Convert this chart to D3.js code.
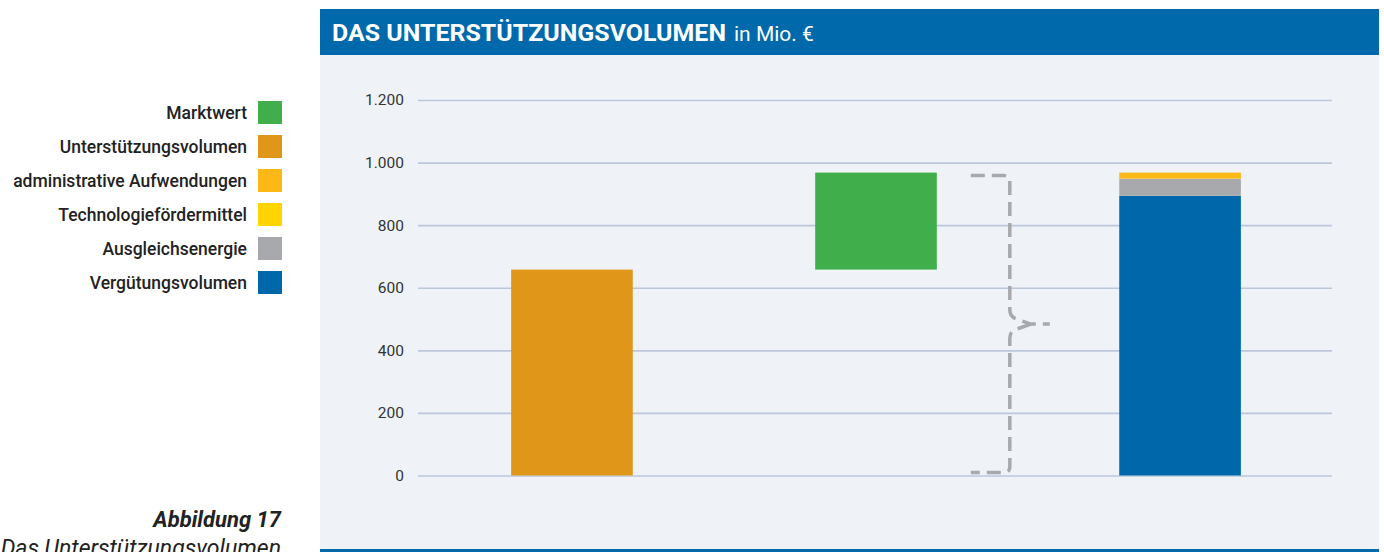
<!DOCTYPE html>
<html>
<head>
<meta charset="utf-8">
<script src="https://cdn.jsdelivr.net/npm/d3@7"></script>
<style>
  body { margin: 0; background: #fff; }
  svg { display: block; font-family: Roboto, "Liberation Sans", sans-serif; }
</style>
</head>
<body>
<svg id="chart" width="1384" height="552"></svg>
<script>
// chart data
var categories = ["Unterstützungsvolumen", "Marktwert", "Gesamt"]
var unterstuetzung = 658
var marktwert = 310
var stackKeys = ["Vergütungsvolumen", "Ausgleichsenergie", "Technologiefördermittel", "administrative Aufwendungen"]
var stackValues = [894, 54, 1, 19]
var yTicks = [0, 200, 400, 600, 800, 1000, 1200]

var legendItems = ["Marktwert", "Unterstützungsvolumen", "administrative Aufwendungen", "Technologiefördermittel", "Ausgleichsenergie", "Vergütungsvolumen"]
var colors = {
    "Marktwert": "#40ae4b",
    "Unterstützungsvolumen": "#e09618",
    "administrative Aufwendungen": "#fbb817",
    "Technologiefördermittel": "#ffd400",
    "Ausgleichsenergie": "#a7a9ac",
    "Vergütungsvolumen": "#0068aa"
}

var svg = d3.select("#chart")
var de = d3.formatLocale({ decimal: ",", thousands: ".", grouping: [3], currency: ["", " €"] })
var fmt = de.format(",")

// panel + title bar
svg.append("rect").attr("x", 320).attr("y", 54).attr("width", 1059).attr("height", 498).attr("fill", "#eff3f8")
svg.append("rect").attr("x", 320).attr("y", 9).attr("width", 1059).attr("height", 46).attr("fill", "#0069ab")
svg.append("rect").attr("x", 320).attr("y", 549).attr("width", 1059).attr("height", 3).attr("fill", "#0069ab")

svg.append("text").attr("x", 332).attr("y", 41)
    .attr("fill", "#fff").attr("font-size", 23).attr("font-weight", 700)
    .attr("textLength", 394).attr("lengthAdjust", "spacingAndGlyphs")
    .text("DAS UNTERSTÜTZUNGSVOLUMEN")
svg.append("text").attr("x", 734).attr("y", 41)
    .attr("fill", "#fff").attr("font-size", 21)
    .text("in Mio. €")

// scales
var x = d3.scaleBand().domain(categories).range([419, 1333]).paddingInner(0.6).paddingOuter(0.303)
var y = d3.scaleLinear().domain([0, 1200]).range([475.5, 100])

// grid + axis
var yAxis = d3.axisLeft(y).tickValues(yTicks).tickFormat(fmt).tickSize(-(1332 - 418)).tickPadding(14)
var ga = svg.append("g").attr("transform", "translate(418,0)").call(yAxis)
ga.select(".domain").remove()
ga.selectAll(".tick line").attr("stroke", "#bcc7dc").attr("stroke-width", 1.6)
ga.selectAll(".tick text").attr("fill", "#333").attr("font-size", 15.5).attr("font-family", "Roboto, sans-serif")

// bars
svg.append("rect")
    .attr("x", x("Unterstützungsvolumen")).attr("width", x.bandwidth())
    .attr("y", y(unterstuetzung)).attr("height", y(0) - y(unterstuetzung))
    .attr("fill", colors["Unterstützungsvolumen"])

svg.append("rect")
    .attr("x", x("Marktwert")).attr("width", x.bandwidth())
    .attr("y", y(unterstuetzung + marktwert)).attr("height", y(unterstuetzung) - y(unterstuetzung + marktwert))
    .attr("fill", colors["Marktwert"])

var cum = 0
var stackData = stackKeys.map(function (k, i) {
    var d = { key: k, y0: cum, y1: cum + stackValues[i] }
    cum += stackValues[i]
    return d
})
svg.selectAll("rect.stack").data(stackData).enter().append("rect")
    .attr("class", "stack")
    .attr("x", x("Gesamt")).attr("width", x.bandwidth())
    .attr("y", d => y(d.y1)).attr("height", d => y(d.y0) - y(d.y1))
    .attr("fill", d => colors[d.key])

// brace
var total = cum
var bx0 = x("Marktwert") + x.bandwidth() + 34
var bx1 = bx0 + 39
var bTip = bx1 + 21
var bEnd = bTip + 19
var bTop = y(total) + 3, bBot = y(0) - 3, bMid = y(total / 2)
var r = 6
var bracePath = "M" + bx0 + "," + bTop + " L" + (bx1 - r) + "," + bTop +
    " Q" + bx1 + "," + bTop + " " + bx1 + "," + (bTop + r) +
    " L" + bx1 + "," + (bMid - 14) +
    " Q" + bx1 + "," + (bMid - 7) + " " + (bx1 + 7) + "," + (bMid - 5) +
    " L" + bTip + "," + bMid + " L" + bEnd + "," + bMid +
    " M" + bTip + "," + bMid + " L" + (bx1 + 7) + "," + (bMid + 5) +
    " Q" + bx1 + "," + (bMid + 7) + " " + bx1 + "," + (bMid + 14) +
    " L" + bx1 + "," + (bBot - r) +
    " Q" + bx1 + "," + bBot + " " + (bx1 - r) + "," + bBot +
    " L" + bx0 + "," + bBot
svg.append("path").attr("d", bracePath)
    .attr("fill", "none").attr("stroke", "#a7a9ac").attr("stroke-width", 3.5)
    .attr("stroke-dasharray", "14,7")

// legend
var lg = svg.selectAll("g.legend").data(legendItems).enter().append("g")
    .attr("class", "legend")
    .attr("transform", (d, i) => "translate(0," + (112.5 + i * 34) + ")")
lg.append("rect").attr("x", 258).attr("y", -11.5).attr("width", 24).attr("height", 23)
    .attr("fill", d => colors[d])
lg.append("text").attr("x", 247).attr("y", 6).attr("text-anchor", "end")
    .attr("font-size", 17.5).attr("font-weight", 500).attr("fill", "#222")
    .text(d => d)

// caption
svg.append("text").attr("x", 281).attr("y", 527).attr("text-anchor", "end")
    .attr("font-size", 22).attr("font-weight", 700).attr("font-style", "italic").attr("fill", "#222")
    .text("Abbildung 17")
svg.append("text").attr("x", 281).attr("y", 556).attr("text-anchor", "end")
    .attr("font-size", 23).attr("font-style", "italic").attr("fill", "#222")
    .text("Das Unterstützungsvolumen")
</script>
</body>
</html>
